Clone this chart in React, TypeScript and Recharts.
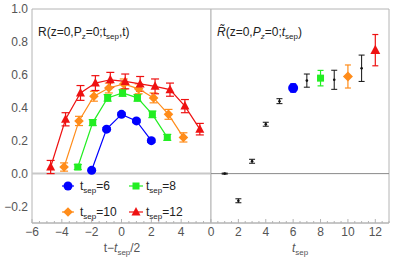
import React from 'react';
import { ComposedChart, Scatter, XAxis, YAxis, ErrorBar, ReferenceLine, ReferenceArea } from 'recharts';

// left panel: R(z=0,Pz=0;tsep,t) vs t - tsep/2
const blueX = [-2, -1, 0, 1, 2];
const blueY = [0.02, 0.27, 0.36, 0.32, 0.2];
const blueErr = [0.008, 0.01, 0.01, 0.01, 0.01];

const greenX = [-2.93, -1.93, -0.93, 0.07, 1.07, 2.07, 3.07];
const greenY = [0.04, 0.31, 0.46, 0.49, 0.46, 0.36, 0.22];
const greenErr = [0.015, 0.018, 0.02, 0.02, 0.02, 0.02, 0.018];

const orangeX = [-3.85, -2.85, -1.85, -0.85, 0.15, 1.15, 2.15, 3.15, 4.15];
const orangeY = [0.04, 0.32, 0.47, 0.52, 0.545, 0.515, 0.46, 0.36, 0.22];
const orangeErr = [0.025, 0.028, 0.03, 0.03, 0.03, 0.03, 0.03, 0.03, 0.028];

const redX = [-4.75, -3.75, -2.75, -1.75, -0.75, 0.25, 1.25, 2.25, 3.25, 4.25, 5.25];
const redY = [0.04, 0.33, 0.49, 0.55, 0.57, 0.56, 0.545, 0.53, 0.51, 0.41, 0.27];
const redErr = [0.04, 0.04, 0.045, 0.045, 0.045, 0.045, 0.045, 0.045, 0.04, 0.04, 0.035];

// right panel: R~(z=0,Pz=0;tsep) vs tsep
const tsep = [1, 2, 3, 4, 5, 6, 7, 8, 9, 10, 11, 12];
const rTilde = [0.0, -0.165, 0.075, 0.3, 0.44, 0.52, 0.565, 0.58, 0.57, 0.59, 0.64, 0.75];
const rTildeErr = [0.003, 0.012, 0.012, 0.012, 0.015, 0.025, 0.04, 0.047, 0.058, 0.07, 0.08, 0.095];

// labelled ticks (the left panel's 6 sits under the right panel's 0)
const leftXMajor = [-6, -4, -2, 0, 2, 4, 6];
const leftXLabels = [-6, -4, -2, 0, 2, 4];
const rightXMajor = [0, 2, 4, 6, 8, 10, 12];
const yMajor = [-0.2, 0, 0.2, 0.4, 0.6, 0.8, 1.0];
// the top label (1.0) sits on the domain edge and the axis keeps dropping it,
// so it's drawn as a reference line label instead
const yLabelTicks = [-0.2, 0, 0.2, 0.4, 0.6, 0.8];
const yTopLabel = 1.0;

const BLUE = '#0000ff';
const GREEN = '#22ee22';
const ORANGE = '#ff8c1a';
const RED = '#ee1111';
const FRAME = '#b4b4b4';
const LABEL = '#555';
const FONT = '"Liberation Sans", Arial, sans-serif';

const rows = (xs: number[], ys: number[], es: number[]) => xs.map((x, i) => ({ x, y: ys[i], e: es[i] }));

const steps = (a: number, b: number, s: number) =>
  Array.from({ length: Math.round((b - a) / s) + 1 }, (_, i) => Math.round((a + i * s) * 1000) / 1000);

const has = (list: number[], v: number) => list.some((m) => Math.abs(m - v) < 1e-6);
const fmtY = (v: number) => (v < 0 ? '\u2212' : '') + Math.abs(v).toFixed(1);

const bottomTick = (majors: number[], labels: number[]) => (p: any) => {
  const v = p.payload.value;
  const major = has(majors, v);
  return (
    <g>
      <line x1={p.x} y1={p.y} x2={p.x} y2={p.y - (major ? 4 : 2)} stroke={FRAME} />
      {has(labels, v) && (
        <text x={p.x} y={p.y + 13} textAnchor="middle" fontSize={12} fill={LABEL} fontFamily={FONT}>
          {v < 0 ? '\u2212' + Math.abs(v) : v}
        </text>
      )}
    </g>
  );
};

const topTick = (majors: number[]) => (p: any) => {
  const major = has(majors, p.payload.value);
  return <line x1={p.x} y1={p.y} x2={p.x} y2={p.y + (major ? 4 : 2)} stroke={FRAME} />;
};

const leftTick = (p: any) => {
  const major = has(yMajor, p.payload.value);
  return <line x1={p.x} y1={p.y} x2={p.x + (major ? 4 : 2)} y2={p.y} stroke={FRAME} />;
};

const labelTick = (p: any) => (
  <text x={p.x - 4} y={p.y + 4} textAnchor="end" fontSize={12} fill={LABEL} fontFamily={FONT}>
    {fmtY(p.payload.value)}
  </text>
);

const rightTick = (p: any) => {
  const major = has(yMajor, p.payload.value);
  return <line x1={p.x} y1={p.y} x2={p.x - (major ? 4 : 2)} y2={p.y} stroke={FRAME} />;
};

const circle = (r: number, c: string) => (p: any) => <circle cx={p.cx} cy={p.cy} r={r} fill={c} />;
const square = (s: number, c: string) => (p: any) => (
  <rect x={p.cx - s / 2} y={p.cy - s / 2} width={s} height={s} fill={c} />
);
const diamond = (s: number, c: string) => (p: any) => (
  <polygon points={`${p.cx},${p.cy - s} ${p.cx + s},${p.cy} ${p.cx},${p.cy + s} ${p.cx - s},${p.cy}`} fill={c} />
);
const triangle = (s: number, c: string) => (p: any) => (
  <polygon points={`${p.cx},${p.cy - s} ${p.cx + s * 0.9},${p.cy + s * 0.7} ${p.cx - s * 0.9},${p.cy + s * 0.7}`} fill={c} />
);

const yTicks = steps(-0.3, 1.0, 0.05);
const leftXTicks = steps(-6, 6, 0.5);
const rightXTicks = steps(0, 13, 0.5);

export default function App() {
  const blue = rows(blueX, blueY, blueErr);
  const green = rows(greenX, greenY, greenErr);
  const orange = rows(orangeX, orangeY, orangeErr);
  const red = rows(redX, redY, redErr);

  const rAll = rows(tsep, rTilde, rTildeErr);
  const black = rAll.filter((d) => ![6, 8, 10, 12].includes(d.x));
  const pick = (t: number) => rAll.filter((d) => d.x === t);

  const series = [
    { data: blue, c: BLUE, shape: circle(4.5, BLUE) },
    { data: green, c: GREEN, shape: square(7, GREEN) },
    { data: orange, c: ORANGE, shape: diamond(4.8, ORANGE) },
    { data: red, c: RED, shape: triangle(5, RED) },
  ];

  return (
    <div style={{ position: 'absolute', left: 0, top: 0, width: 415, height: 263, background: '#fff' }}>
      <div style={{ position: 'absolute', left: 0, top: 0 }}>
        <ComposedChart width={211} height={263} margin={{ top: 9, right: 0, bottom: 20, left: 0 }}>
          <XAxis dataKey="x" type="number" domain={[-6, 6]} ticks={leftXTicks} interval={0} tickSize={0} tickMargin={0}
            tick={bottomTick(leftXMajor, leftXLabels)} axisLine={{ stroke: FRAME }} tickLine={false} height={20} allowDataOverflow />
          <XAxis xAxisId="top" orientation="top" type="number" domain={[-6, 6]} ticks={leftXTicks} interval={0} tickSize={0}
            tick={topTick(leftXMajor)} axisLine={{ stroke: FRAME }} tickLine={false} height={0} allowDataOverflow />
          <YAxis yAxisId="lbl" type="number" domain={[-0.3, 1.0]} ticks={yLabelTicks} interval={0} tickSize={0} tickMargin={0}
            tick={labelTick} axisLine={false} tickLine={false} width={32} allowDataOverflow />
          <YAxis dataKey="y" type="number" domain={[-0.3, 1.0]} ticks={yTicks} interval={0} tickSize={0} tickMargin={0}
            tick={leftTick} axisLine={{ stroke: FRAME }} tickLine={false} width={0} allowDataOverflow />
          <YAxis yAxisId="right" orientation="right" type="number" domain={[-0.3, 1.0]} ticks={yTicks} interval={0} tickSize={0}
            tick={rightTick} axisLine={{ stroke: FRAME }} tickLine={false} width={0} allowDataOverflow />
          <ReferenceArea x1={-6} x2={6} y1={-0.3} y2={1.0} fill="none" stroke={FRAME} strokeWidth={1} ifOverflow="visible" />
          <ReferenceLine y={yTopLabel} stroke="none" ifOverflow="visible"
            label={{ value: fmtY(yTopLabel), position: 'left', offset: 4, fill: LABEL, fontSize: 12, fontFamily: FONT }} />
          <ReferenceLine y={0} stroke="#c8c8c8" strokeWidth={2} />
          {series.map((s, i) => (
            <Scatter key={i} data={s.data} line={{ stroke: s.c, strokeWidth: 1.2 }} shape={s.shape} isAnimationActive={false}>
              <ErrorBar dataKey="e" direction="y" width={4} stroke={s.c} strokeWidth={1.2} />
            </Scatter>
          ))}
        </ComposedChart>
      </div>
      <div style={{ position: 'absolute', left: 195, top: 0 }}>
        <ComposedChart width={220} height={263} margin={{ top: 9, right: 26, bottom: 20, left: 16 }}>
          <XAxis dataKey="x" type="number" domain={[0, 13]} ticks={rightXTicks} interval={0} tickSize={0} tickMargin={0}
            tick={bottomTick(rightXMajor, rightXMajor)} axisLine={{ stroke: FRAME }} tickLine={false} height={20} allowDataOverflow />
          <XAxis xAxisId="top" orientation="top" type="number" domain={[0, 13]} ticks={rightXTicks} interval={0} tickSize={0}
            tick={topTick(rightXMajor)} axisLine={{ stroke: FRAME }} tickLine={false} height={0} allowDataOverflow />
          <YAxis dataKey="y" type="number" domain={[-0.3, 1.0]} ticks={yTicks} interval={0} tickSize={0} tickMargin={0}
            tick={leftTick} axisLine={{ stroke: FRAME }} tickLine={false} width={0} allowDataOverflow />
          <YAxis yAxisId="right" orientation="right" type="number" domain={[-0.3, 1.0]} ticks={yTicks} interval={0} tickSize={0}
            tick={rightTick} axisLine={{ stroke: FRAME }} tickLine={false} width={0} allowDataOverflow />
          <ReferenceArea x1={0} x2={13} y1={-0.3} y2={1.0} fill="none" stroke={FRAME} strokeWidth={1} ifOverflow="visible" />
          <ReferenceLine y={0} stroke="#8a8a8a" strokeWidth={1} />
          <Scatter data={black} shape={circle(1.3, '#111')} isAnimationActive={false}>
            <ErrorBar dataKey="e" direction="y" width={3} stroke="#111" strokeWidth={1} />
          </Scatter>
          <Scatter data={pick(6)} shape={circle(5, BLUE)} isAnimationActive={false}>
            <ErrorBar dataKey="e" direction="y" width={3} stroke={BLUE} strokeWidth={1.2} />
          </Scatter>
          <Scatter data={pick(8)} shape={square(7, GREEN)} isAnimationActive={false}>
            <ErrorBar dataKey="e" direction="y" width={3} stroke={GREEN} strokeWidth={1.2} />
          </Scatter>
          <Scatter data={pick(10)} shape={diamond(5, ORANGE)} isAnimationActive={false}>
            <ErrorBar dataKey="e" direction="y" width={3} stroke={ORANGE} strokeWidth={1.2} />
          </Scatter>
          <Scatter data={pick(12)} shape={triangle(5.5, RED)} isAnimationActive={false}>
            <ErrorBar dataKey="e" direction="y" width={3} stroke={RED} strokeWidth={1.2} />
          </Scatter>
        </ComposedChart>
      </div>
      <svg width={415} height={263} style={{ position: 'absolute', left: 0, top: 0, pointerEvents: 'none' }} fontFamily={FONT}>
        <text x={38} y={36} fontSize={12} fill="#222">
          R(z=0,P<tspan dy={3} fontSize={8}>z</tspan><tspan dy={-3}>=0;t</tspan>
          <tspan dy={3} fontSize={8}>sep</tspan><tspan dy={-3}>,t)</tspan>
        </text>
        <text x={217} y={36} fontSize={12} fill="#222">
          <tspan fontStyle="italic">R̃</tspan>(z=0,<tspan fontStyle="italic">P</tspan>
          <tspan dy={3} fontSize={8} fontStyle="italic">z</tspan><tspan dy={-3}>=0;</tspan>
          <tspan fontStyle="italic">t</tspan><tspan dy={3} fontSize={8}>sep</tspan><tspan dy={-3}>)</tspan>
        </text>
        {/* legend */}
        <g>
          <line x1={62} y1={186} x2={74} y2={186} stroke={BLUE} strokeWidth={1.2} />
          <circle cx={68} cy={186} r={4.5} fill={BLUE} />
          <line x1={129} y1={186} x2={143} y2={186} stroke={GREEN} strokeWidth={1.2} />
          <rect x={132.5} y={182.5} width={7} height={7} fill={GREEN} />
          <line x1={62} y1={212} x2={74} y2={212} stroke={ORANGE} strokeWidth={1.2} />
          <polygon points="68,207.2 72.8,212 68,216.8 63.2,212" fill={ORANGE} />
          <line x1={129} y1={212} x2={143} y2={212} stroke={RED} strokeWidth={1.2} />
          <polygon points="136,207 140.5,215.5 131.5,215.5" fill={RED} />
          <text x={80} y={190} fontSize={12} fill="#222">t<tspan dy={3} fontSize={8}>sep</tspan><tspan dy={-3}>=6</tspan></text>
          <text x={146} y={190} fontSize={12} fill="#222">t<tspan dy={3} fontSize={8}>sep</tspan><tspan dy={-3}>=8</tspan></text>
          <text x={80} y={216} fontSize={12} fill="#222">t<tspan dy={3} fontSize={8}>sep</tspan><tspan dy={-3}>=10</tspan></text>
          <text x={146} y={216} fontSize={12} fill="#222">t<tspan dy={3} fontSize={8}>sep</tspan><tspan dy={-3}>=12</tspan></text>
        </g>
        <text x={122} y={252} fontSize={12} fill={LABEL} textAnchor="middle">
          t−<tspan fontStyle="italic">t</tspan><tspan dy={3} fontSize={8}>sep</tspan><tspan dy={-3}>/2</tspan>
        </text>
        <text x={300} y={252} fontSize={12} fill={LABEL} textAnchor="middle" fontStyle="italic">
          t<tspan dy={3} fontSize={8} fontStyle="normal">sep</tspan>
        </text>
      </svg>
    </div>
  );
}
